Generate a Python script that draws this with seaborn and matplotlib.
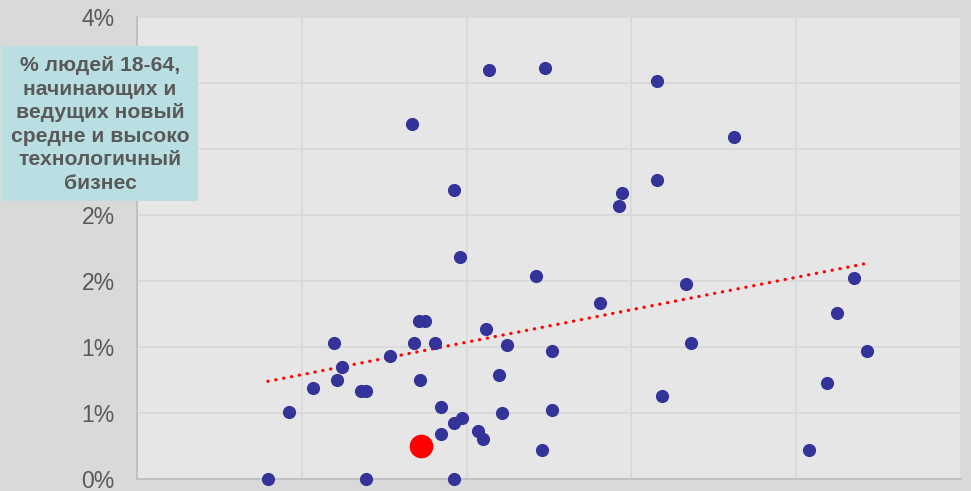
import matplotlib
matplotlib.use("Agg")
import matplotlib.pyplot as plt
import matplotlib.patches as mpatches
import seaborn as sns
import pandas as pd

# x position (arbitrary index units, no axis labels in source), y in percent
x_vals = [0.794, 0.923, 1.067, 1.198, 1.214, 1.244, 1.358, 1.392, 1.392, 1.535,
          1.667, 1.681, 1.713, 1.747, 1.715, 1.810, 1.844, 1.844, 1.923, 1.923,
          1.923, 1.958, 1.974, 2.071, 2.101, 2.119, 2.133, 2.198, 2.214, 2.247,
          2.424, 2.456, 2.473, 2.521, 2.521, 2.812, 2.927, 2.941, 3.153, 3.153,
          3.186, 3.332, 3.364, 3.622, 4.075, 4.188, 4.250, 4.350, 4.429]
y_vals = [0.000, 0.506, 0.687, 1.033, 0.749, 0.850, 0.668, 0.668, 0.000, 0.932,
          2.693, 1.033, 1.194, 1.194, 0.749, 1.033, 0.547, 0.344, 2.187, 0.423,
          0.000, 1.680, 0.465, 0.364, 0.304, 1.134, 3.098, 0.790, 0.503, 1.012,
          1.539, 0.222, 3.115, 0.972, 0.526, 1.336, 2.065, 2.166, 3.017, 2.268,
          0.628, 1.478, 1.033, 2.592, 0.222, 0.729, 1.255, 1.519, 0.972]
highlight_x = [1.721]
highlight_y = [0.248]

y_ticks = [0, 0.5, 1.0, 1.5, 2.0, 2.5, 3.0, 3.5]
y_tick_labels = ["0%", "1%", "1%", "2%", "2%", "3%", "3%", "4%"]
x_ticks = [0, 1, 2, 3, 4, 5]

box_text = ("% людей 18-64,\nначинающих и\nведущих новый\n"
            "средне и высоко\nтехнологичный\nбизнес")

df = pd.DataFrame({"x": x_vals, "y": y_vals})
df_hl = pd.DataFrame({"x": highlight_x, "y": highlight_y})

sns.set_theme(style="whitegrid")
plt.rcParams["font.family"] = ["Liberation Sans", "DejaVu Sans"]

fig = plt.figure(figsize=(9.71, 4.91), dpi=100, facecolor="#d9d9d9")
ax = fig.add_axes([137 / 971, 12 / 491, 824 / 971, 462 / 491])
ax.set_facecolor("#e6e6e6")

sns.regplot(data=df, x="x", y="y", scatter=False, ci=None, ax=ax,
            line_kws={"color": "#ff0000", "lw": 2.3,
                      "linestyle": (0, (0.1, 2.4)),
                      "dash_capstyle": "round", "zorder": 2})
sns.scatterplot(data=df, x="x", y="y", ax=ax, color="#333399", s=90,
                linewidth=0, clip_on=False, zorder=3)
sns.scatterplot(data=df_hl, x="x", y="y", ax=ax, color="#ff0000", s=290,
                linewidth=0, clip_on=False, zorder=4)

ax.set_xlim(0, 5)
ax.set_ylim(0, 3.5)
ax.set_xticks(x_ticks)
ax.set_xticklabels([])
ax.set_yticks(y_ticks)
ax.set_yticklabels(y_tick_labels)
ax.tick_params(axis="y", length=0, pad=16, labelsize=16.5, labelcolor="#595959")
ax.tick_params(axis="x", length=0)
ax.set_xlabel("")
ax.set_ylabel("")
ax.grid(True, color="#d9d9d9", linewidth=1.3)
ax.set_axisbelow(True)
for side in ["top", "right"]:
    ax.spines[side].set_visible(False)
for side in ["left", "bottom"]:
    ax.spines[side].set_color("#bfbfbf")
    ax.spines[side].set_linewidth(1.3)

# label box in top-left corner
fig.patches.append(mpatches.Rectangle((2 / 971, 1 - 201 / 491), 196 / 971, 155 / 491,
                                      transform=fig.transFigure, facecolor="#b9dfe3",
                                      edgecolor="none", zorder=5))
fig.text(100 / 971, 1 - 124.5 / 491, box_text, ha="center", va="center",
         fontsize=15.2, fontweight="bold", color="#595959", linespacing=1.3, zorder=6)

fig.savefig("out.png", dpi=100, facecolor=fig.get_facecolor())
